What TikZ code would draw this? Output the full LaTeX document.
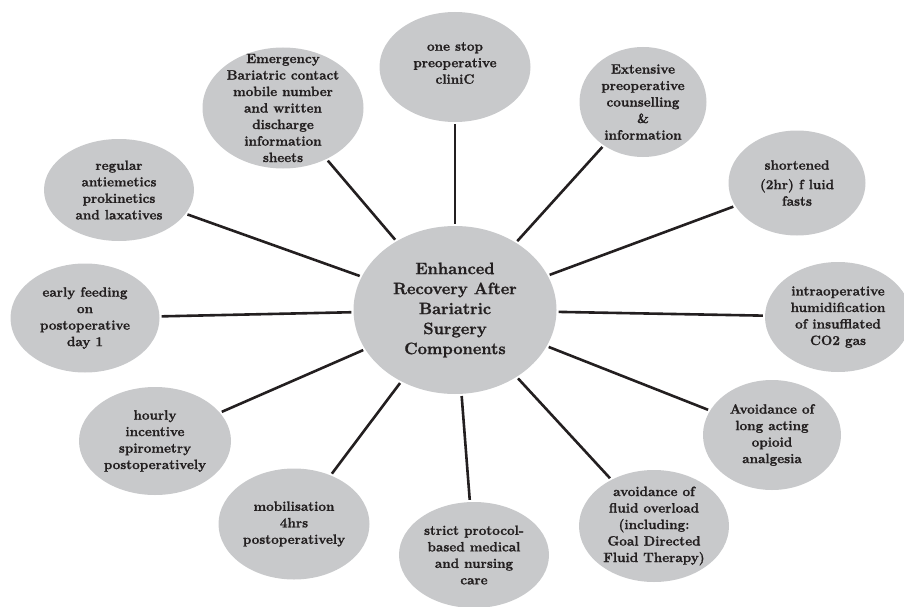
\documentclass[tikz,border=0pt]{standalone}
\usepackage{fontspec}
\setmainfont{Latin Modern Roman}[BoldFeatures={FakeBold=1.2}]
\usetikzlibrary{shapes.geometric}

\definecolor{bubblegray}{RGB}{200,201,203}
\definecolor{inkgray}{RGB}{35,31,32}

\begin{document}
\begin{tikzpicture}[
    x=1pt, y=-1pt, % pixel units, y pointing down
    bubble/.style 2 args={ellipse, fill=bubblegray, minimum width=#1, minimum height=#2, inner sep=0pt},
    txt/.style={align=center, text=inkgray, font=\fontsize{13.5}{16.5}\selectfont\bfseries},
    link/.style={line width=2.6pt, draw=inkgray, shorten <=2pt, shorten >=2pt},
  ]
    \useasboundingbox (0,0) rectangle (904,607);

    % Hub
    \node[bubble={203pt}{168pt},
      label={[txt, font=\fontsize{16.5}{20}\selectfont\bfseries]center:{Enhanced\\Recovery After\\Bariatric\\Surgery\\Components}}]
      (hub) at (455,310) {};

    % Components, clockwise from the top
    \node[bubble={151pt}{110pt}, label={[txt, yshift=4pt]center:{one stop\\preoperative\\cliniC}}]
      (clinic) at (455,67) {};
    \node[bubble={127pt}{110pt}, label={[txt]center:{Extensive\\preoperative\\counselling\\\&\\information}}]
      (counsel) at (643,102) {};
    \node[bubble={137pt}{105pt}, label={[txt]center:{shortened\\[3pt](2hr) f luid\\fasts}}]
      (fasts) at (797,183) {};
    \node[bubble={146pt}{110pt}, label={[txt]center:{intraoperative\\humidification\\of insufflated\\CO2 gas}}]
      (humid) at (838,317) {};
    \node[bubble={138pt}{110pt}, label={[txt]center:{Avoidance of\\long acting\\opioid\\analgesia}}]
      (opioid) at (772,435) {};
    \node[bubble={150pt}{112pt}, label={[txt]center:{avoidance of\\fluid overload\\(including:\\Goal Directed\\Fluid Therapy)}}]
      (fluid) at (654,526) {};
    \node[bubble={150pt}{106pt}, label={[txt]center:{strict protocol-\\based medical\\and nursing\\care}}]
      (care) at (474,555) {};
    \node[bubble={151pt}{111pt}, label={[txt]center:{mobilisation\\4hrs\\postoperatively}}]
      (mobil) at (294,524) {};
    \node[bubble={152pt}{108pt}, label={[txt]center:{hourly\\incentive\\spirometry\\postoperatively}}]
      (spiro) at (155,441) {};
    \node[bubble={149pt}{109pt}, label={[txt]center:{early feeding\\on\\postoperative\\day 1}}]
      (feeding) at (85,318) {};
    \node[bubble={150pt}{102pt}, label={[txt]center:{regular\\antiemetics\\prokinetics\\and laxatives}}]
      (antiem) at (119,190) {};
    \node[bubble={161pt}{121pt}, label={[txt]center:{Emergency\\Bariatric contact\\mobile number\\and written\\discharge\\information\\sheets}}]
      (emerg) at (283,108) {};

    % Spokes
    \foreach \part in {clinic,counsel,fasts,humid,opioid,fluid,care,mobil,spiro,feeding,antiem,emerg}
      \draw[link] (\part) -- (hub);
  \end{tikzpicture}
\end{document}
